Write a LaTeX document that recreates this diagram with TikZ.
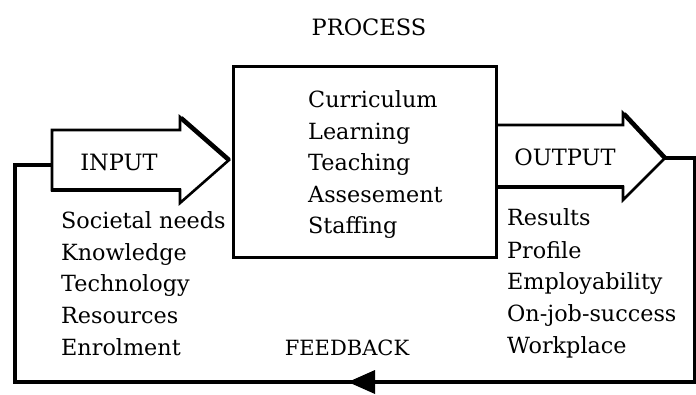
\documentclass[tikz,border=0pt]{standalone}
\usepackage{fontspec}
\setmainfont{DejaVu Serif}
\begin{document}
\begin{tikzpicture}[x=1pt,y=-1pt,
  lbl/.style={anchor=base west,inner sep=0pt,font=\fontsize{22.3}{28}\selectfont},
  ttl/.style={anchor=base,inner sep=0pt,font=\fontsize{22.5}{28}\selectfont},
  thinline/.style={line width=2.6pt,line join=miter},
  shadowline/.style={line width=4.6pt,line cap=butt},
  fbline/.style={line width=3.4pt,line join=miter}]
\useasboundingbox (0,0) rectangle (696,394);
% process box
\node[draw,thinline,minimum width=263pt,minimum height=191pt,inner sep=0pt,anchor=north west] (box) at (232,65) {};
\node[ttl] (proc) at (369,35) {PROCESS};
\node[lbl] (p1) at (308,107) {Curriculum};
\node[lbl] (p2) at (308,139) {Learning};
\node[lbl] (p3) at (308,170) {Teaching};
\node[lbl] (p4) at (308,202) {Assesement};
\node[lbl] (p5) at (308,233) {Staffing};
% input arrow
\coordinate (inTail) at (52,165);
\coordinate (inTip) at (229,160);
\draw[thinline] (52,130) -- (180,130) -- (180,117) -- (inTip) -- (180,203) -- (180,190) -- (52,190) -- cycle;
\draw[shadowline] (51,190) -- (181,190);
\draw[shadowline] (181,118) -- (inTip);
\node[ttl] (inp) at (119,170) {INPUT};
% output arrow
\coordinate (outTip) at (665,158);
\draw[thinline] (box.east |- 0,125) -- (623,125) -- (623,113) -- (outTip) -- (623,200) -- (623,187) -- (box.east |- 0,187);
\draw[shadowline] (495,187) -- (624,187);
\draw[shadowline] (624,114) -- (outTip);
\node[ttl] (outp) at (565,165) {OUTPUT};
% lists
\node[lbl] (l1) at (61,228) {Societal needs};
\node[lbl] (l2) at (61,260) {Knowledge};
\node[lbl] (l3) at (61,291) {Technology};
\node[lbl] (l4) at (61,323) {Resources};
\node[lbl] (l5) at (61,355) {Enrolment};
\node[lbl] (r1) at (507,225) {Results};
\node[lbl] (r2) at (507,258) {Profile};
\node[lbl] (r3) at (507,289) {Employability};
\node[lbl] (r4) at (507,321) {On-job-success};
\node[lbl] (r5) at (507,353) {Workplace};
\node[ttl,font=\fontsize{21}{26}\selectfont] (fb) at (347,355) {FEEDBACK};
% feedback loop
\coordinate (fbHead) at (348,382);
\draw[fbline] (outTip) -- (695,158) -- (695,382) -- (15,382) -- (15,165) -- (inTail);
\fill (fbHead) -- ++(27,-12) -- ++(0,24) -- cycle;
\end{tikzpicture}
\end{document}
